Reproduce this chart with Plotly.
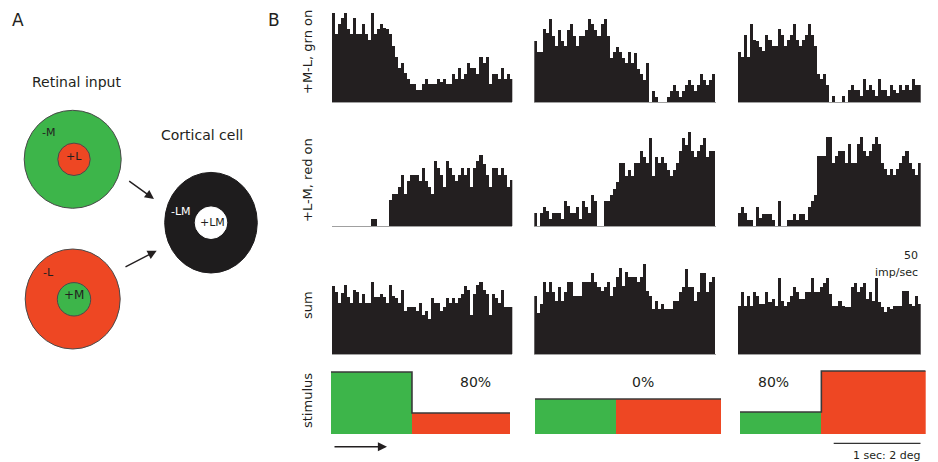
import numpy as np
import plotly.graph_objects as go

W, H = 938, 462
FONT = "DejaVu Sans"
INK = "#231f20"
GREEN = "#3db54a"
RED = "#ee4723"

# ---------------- data ----------------
BIN_S = 0.035          # histogram bin width (s)
T_TOTAL = 2.1          # sweep length (s)

# +M-L cell, green-on stimulus (imp/sec per bin), three stimulus conditions
grn_on_c1 = [89, 68, 78, 84, 89, 73, 68, 84, 68, 68, 78, 68, 62, 89, 68, 73, 78, 74, 73, 68,
             56, 45, 34, 39, 29, 23, 18, 18, 12, 12, 18, 23, 18, 18, 18, 23, 20, 23, 18, 18,
             28, 23, 34, 23, 28, 39, 34, 34, 28, 45, 39, 45, 18, 28, 28, 23, 34, 23, 28, 23]
grn_on_c2 = [61, 50, 50, 73, 69, 83, 66, 56, 72, 61, 56, 72, 78, 66, 56, 66, 66, 72, 83, 78,
             72, 66, 78, 83, 66, 44, 50, 55, 50, 44, 39, 50, 39, 49, 33, 28, 22, 39, 0, 11,
             5, 0, 0, 0, 5, 11, 17, 11, 5, 11, 17, 22, 17, 11, 17, 28, 22, 17, 22, 28]
grn_on_c3 = [50, 45, 67, 45, 78, 62, 61, 55, 51, 67, 62, 56, 56, 73, 67, 56, 62, 67, 78, 62,
             56, 62, 67, 78, 67, 56, 28, 23, 28, 17, 0, 6, 0, 0, 6, 0, 12, 17, 12, 12,
             6, 23, 12, 17, 12, 6, 23, 12, 12, 6, 17, 12, 9, 17, 12, 17, 12, 23, 17, 17]
# +L-M cell, red-on
red_on_c1 = [0, 0, 0, 0, 0, 0, 0, 0, 0, 0, 0, 0, 0, 7, 7, 0, 0, 0, 0, 26,
             32, 32, 39, 51, 32, 45, 51, 51, 51, 45, 58, 45, 39, 32, 65, 58, 51, 39, 65, 58,
             51, 45, 51, 58, 51, 58, 39, 58, 65, 71, 62, 51, 39, 58, 58, 51, 58, 51, 39, 46]
red_on_c2 = [13, 0, 13, 19, 15, 7, 13, 13, 13, 7, 25, 20, 13, 13, 19, 7, 25, 19, 13, 31,
             25, 0, 0, 25, 25, 31, 37, 44, 63, 63, 50, 56, 50, 63, 63, 75, 69, 63, 88, 50,
             69, 63, 69, 63, 56, 50, 56, 63, 75, 88, 81, 94, 75, 69, 75, 81, 88, 69, 75, 75]
red_on_c3 = [13, 19, 13, 6, 6, 0, 19, 8, 12, 12, 12, 6, 0, 25, 0, 0, 6, 6, 12, 6,
             12, 12, 6, 19, 25, 31, 70, 70, 70, 89, 89, 63, 70, 75, 75, 63, 82, 63, 63, 82,
             89, 75, 70, 75, 82, 89, 82, 63, 57, 51, 57, 51, 57, 63, 70, 75, 63, 57, 51, 63]
# sum of the two
sum_c1 = [68, 62, 51, 61, 69, 57, 51, 64, 62, 51, 60, 51, 51, 72, 57, 57, 60, 57, 51, 69,
          58, 56, 51, 64, 43, 47, 47, 47, 43, 51, 39, 43, 35, 56, 51, 51, 43, 47, 56, 51,
          56, 51, 56, 60, 68, 64, 39, 60, 69, 72, 64, 60, 39, 60, 56, 51, 64, 47, 47, 47]
sum_c2 = [58, 41, 50, 72, 62, 72, 62, 53, 67, 53, 62, 72, 72, 58, 58, 58, 72, 72, 72, 81,
          72, 67, 63, 67, 72, 58, 67, 77, 86, 68, 82, 77, 77, 77, 72, 77, 90, 63, 58, 45,
          53, 45, 50, 45, 45, 45, 53, 53, 62, 67, 85, 67, 67, 53, 62, 81, 81, 62, 72, 77]
sum_c3 = [48, 62, 48, 58, 48, 62, 58, 50, 50, 62, 52, 55, 48, 76, 53, 48, 52, 58, 67, 62,
          55, 55, 62, 62, 76, 62, 62, 67, 71, 76, 60, 48, 48, 53, 48, 47, 47, 67, 71, 62,
          67, 71, 55, 62, 53, 76, 52, 47, 42, 47, 45, 48, 48, 48, 63, 63, 50, 48, 58, 50]

# stimulus luminance (arbitrary units): green phase then red phase
stim_step_s = [0.95, 0.92, 0.92]
stim_green = [62, 35, 22]
stim_red = [21, 35, 63]
contrast_labels = ["80%", "0%", "80%"]
row_labels = ["+M-L, grn on", "+L-M, red on", "sum", "stimulus"]

hist_rows = [[grn_on_c1, grn_on_c2, grn_on_c3],
             [red_on_c1, red_on_c2, red_on_c3],
             [sum_c1, sum_c2, sum_c3]]

# ---------------- layout geometry (pixels) ----------------
col_px = [(331.7, 512.3), (534.3, 715.7), (738.0, 920.7)]
row_base_px = [102, 226, 354]
ROW_H = 95
stim_col_px = [(331, 510), (535, 721), (740, 925.7)]
stim_px = (369, 434)


def xd(a, b):
    return [a / W, b / W]


def yd(top, bottom):
    return [1 - bottom / H, 1 - top / H]


fig = go.Figure()
layout = dict(width=W, height=H, margin=dict(l=0, r=0, t=0, b=0),
              paper_bgcolor="white", plot_bgcolor="rgba(0,0,0,0)", showlegend=False,
              bargap=0, barmode="overlay")

t_centers = (np.arange(60) + 0.5) * BIN_S
k = 0
for r, row in enumerate(hist_rows):
    for c, vals in enumerate(row):
        k += 1
        fig.add_trace(go.Bar(x=t_centers, y=vals, width=BIN_S,
                             marker=dict(color=INK, line=dict(width=0)),
                             xaxis=f"x{k}", yaxis=f"y{k}", hoverinfo="skip"))
        layout[f"xaxis{k}"] = dict(domain=xd(*col_px[c]), range=[0, T_TOTAL], anchor=f"y{k}",
                                   showgrid=False, zeroline=False, showticklabels=False,
                                   ticks="", showline=True, linecolor="#a0a0a0", linewidth=1,
                                   layer="below traces")
        b = row_base_px[r]
        layout[f"yaxis{k}"] = dict(domain=yd(b - ROW_H, b), range=[0, ROW_H], anchor=f"x{k}",
                                   visible=False)

# stimulus panels
for c in range(3):
    k += 1
    s = stim_step_s[c]
    fig.add_trace(go.Bar(x=[s / 2, (s + T_TOTAL) / 2], y=[stim_green[c], stim_red[c]],
                         width=[s, T_TOTAL - s], marker=dict(color=[GREEN, RED], line=dict(width=0)),
                         xaxis=f"x{k}", yaxis=f"y{k}", hoverinfo="skip"))
    fig.add_trace(go.Scatter(x=[0, s, T_TOTAL], y=[stim_green[c], stim_red[c], stim_red[c]],
                             mode="lines", line=dict(shape="hv", color="#3a3a3a", width=1.6),
                             xaxis=f"x{k}", yaxis=f"y{k}", hoverinfo="skip"))
    layout[f"xaxis{k}"] = dict(domain=xd(*stim_col_px[c]), range=[0, T_TOTAL], anchor=f"y{k}",
                               visible=False)
    layout[f"yaxis{k}"] = dict(domain=yd(*stim_px), range=[0, stim_px[1] - stim_px[0]],
                               anchor=f"x{k}", visible=False)

# overlay axis in pixel units for the diagram
OV = 13
layout[f"xaxis{OV}"] = dict(domain=[0, 1], range=[0, W], anchor=f"y{OV}", visible=False)
layout[f"yaxis{OV}"] = dict(domain=[0, 1], range=[H, 0], anchor=f"x{OV}", visible=False)
fig.update_layout(**layout)

xr, yr = f"x{OV}", f"y{OV}"
shapes = []


def circle(cx, cy, rx, ry, fill, line="#4a4a4a", lw=1):
    shapes.append(dict(type="circle", xref=xr, yref=yr, x0=cx - rx, x1=cx + rx,
                       y0=cy - ry, y1=cy + ry, fillcolor=fill,
                       line=dict(color=line, width=lw)))


circle(72.7, 159.3, 48.5, 49, GREEN)
circle(74, 159.3, 16.2, 16.2, RED)
circle(72.7, 299, 47.5, 50, RED)
circle(74, 299.3, 16.7, 16.7, GREEN)
circle(211, 222.7, 46.3, 50.3, "#1e1c1d", line="#1e1c1d")
circle(211, 222.7, 15.8, 15.8, "white", line="white")

# 1 sec scale bar drawn on the time axis of the last histogram column
shapes.append(dict(type="line", xref="x9", yref=yr, x0=T_TOTAL - 1.0, x1=T_TOTAL,
                   y0=443.3, y1=443.3, line=dict(color="#333", width=1.2)))
fig.update_layout(shapes=shapes)

ann = []


def text(x, y, s, size=13, color=INK, angle=0, xanchor="center"):
    ann.append(dict(x=x, y=y, xref=xr, yref=yr, text=s, showarrow=False, textangle=angle,
                    xanchor=xanchor, yanchor="middle",
                    font=dict(family=FONT, size=size, color=color)))


def arrow(x0, y0, x1, y1):
    ann.append(dict(x=x1, y=y1, ax=x0, ay=y0, xref=xr, yref=yr, axref=xr, ayref=yr,
                    text="", showarrow=True, arrowhead=2, arrowsize=1.3, arrowwidth=1.4,
                    arrowcolor=INK))


text(18, 20, "A", 17)
text(274, 20, "B", 17)
text(76, 82, "Retinal input", 14)
text(202, 135, "Cortical cell", 14)
text(48, 132, "-M", 11)
text(74, 156, "+L", 11)
text(48, 272, "-L", 11)
text(74, 295, "+M", 12)
text(181, 211, "-LM", 11, color="white")
text(212, 222, "+LM", 11)
arrow(127.7, 180, 154, 199)
arrow(124, 267.7, 156.7, 250.7)

for lbl, cy in zip(row_labels, [52, 180, 305, 401]):
    text(307, cy, lbl, 13, angle=-90)

for lbl, cx in zip(contrast_labels, [475, 643, 773]):
    text(cx, 382, lbl, 14)

text(920, 255, "50", 11, xanchor="right")
text(920, 272, "imp/sec", 11, xanchor="right")
text(921.7, 455, "1 sec: 2 deg", 11, xanchor="right")
arrow(333, 446.7, 387, 446.7)

fig.update_layout(annotations=ann)
fig.write_html("out.html")
